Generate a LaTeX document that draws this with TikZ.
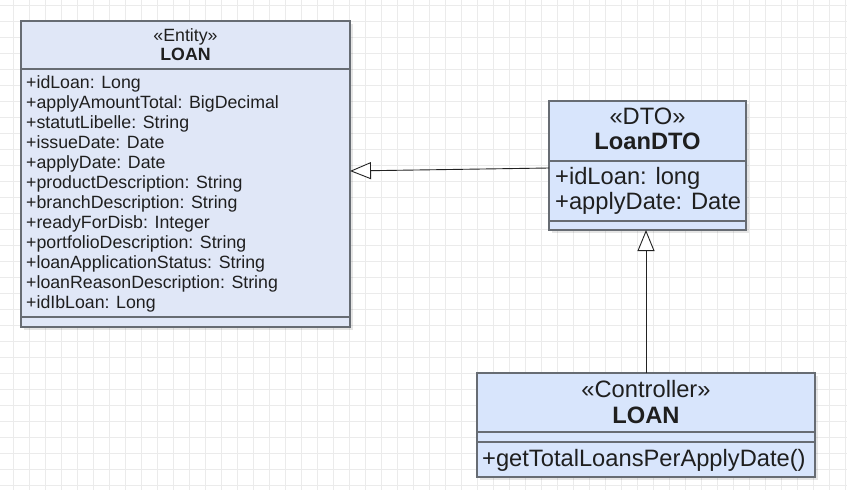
\documentclass[tikz,border=0pt]{standalone}
\usepackage{fontspec}
\setmainfont{Liberation Sans}
\usetikzlibrary{arrows.meta,shadows}
\definecolor{gridc}{HTML}{EBEBEB}
\definecolor{entfill}{HTML}{E0E7F7}
\definecolor{dtofill}{HTML}{D8E5FC}
\definecolor{boxline}{HTML}{676C73}
\definecolor{arrowc}{HTML}{222222}
\newcommand\fsSmall{\fontsize{17.75}{20}\selectfont}
\newcommand\fsBig{\fontsize{23.7}{25}\selectfont}
\tikzset{
  gridline/.style={draw=gridc, line width=1pt},
  classbox/.style={draw=boxline, line width=1.6pt, inner sep=0pt, outer sep=0pt,
    drop shadow={shadow xshift=3pt, shadow yshift=-3pt, fill=black, opacity=0.10}},
  sepline/.style={draw=boxline, line width=1.6pt},
  smalltxt/.style={inner sep=0pt, font=\fsSmall, text=black!88},
  bigtxt/.style={inner sep=0pt, font=\fsBig, text=black!88},
  genarrow/.style={draw=arrowc, line width=0.9pt,
    -{Triangle[open, length=21pt, width=17pt, fill=white, line width=0.9pt]}},
}
\begin{document}
\begin{tikzpicture}[x=1pt,y=-1pt]
\useasboundingbox (0,0) rectangle (847,490);
\fill[white] (0,0) rectangle (847,490);
\foreach \gx in {13,29,...,845} \draw[gridline] (\gx,0) -- (\gx,490);
\foreach \gy in {5,21,...,489} \draw[gridline] (0,\gy) -- (847,\gy);

% Entity LOAN
\node[classbox, fill=entfill, minimum width=329pt, minimum height=306pt] (ent) at (185.5,174) {};
\draw[sepline] (ent.west |- 0,69) -- (ent.east |- 0,69);
\draw[sepline] (ent.west |- 0,317) -- (ent.east |- 0,317);
\node[smalltxt, anchor=base] (entst) at (185.5,41.5) {«Entity»};
\node[smalltxt, anchor=base, font=\fsSmall\bfseries] (entname) at (185.5,60) {LOAN};
\foreach \t [count=\i] in {+idLoan: Long,+applyAmountTotal: BigDecimal,+statutLibelle: String,+issueDate: Date,+applyDate: Date,+productDescription: String,+branchDescription: String,+readyForDisb: Integer,+portfolioDescription: String,+loanApplicationStatus: String,+loanReasonDescription: String,+idIbLoan: Long}
  \node[smalltxt, anchor=base west] (ea\i) at (26,{68.3+20*\i}) {\t};

% DTO
\node[classbox, fill=dtofill, minimum width=197pt, minimum height=129pt] (dto) at (647.5,165.5) {};
\draw[sepline] (dto.west |- 0,161) -- (dto.east |- 0,161);
\draw[sepline] (dto.west |- 0,221) -- (dto.east |- 0,221);
\node[bigtxt, anchor=base] (dtost) at (647.5,124.5) {«DTO»};
\node[bigtxt, anchor=base, font=\fsBig\bfseries] (dtoname) at (647.5,149.5) {LoanDTO};
\node[bigtxt, anchor=base west] (da1) at (555,184.5) {+idLoan: long};
\node[bigtxt, anchor=base west] (da2) at (555,209) {+applyDate: Date};

% Controller
\node[classbox, fill=dtofill, minimum width=338pt, minimum height=104pt] (ctl) at (646,425) {};
\draw[sepline] (ctl.west |- 0,432) -- (ctl.east |- 0,432);
\draw[sepline] (ctl.west |- 0,442) -- (ctl.east |- 0,442);
\node[bigtxt, anchor=base] (ctlst) at (646,397.5) {«Controller»};
\node[bigtxt, anchor=base, font=\fsBig\bfseries] (ctlname) at (646,423) {LOAN};
\node[bigtxt, anchor=base west] (cm1) at (482,466.5) {+getTotalLoansPerApplyDate()};

% Generalisations
\draw[genarrow] (dto.west |- 0,168) -- (ent.east |- 0,171);
\draw[genarrow] (ctl.north) -- (ctl.north |- dto.south);
\end{tikzpicture}
\end{document}
